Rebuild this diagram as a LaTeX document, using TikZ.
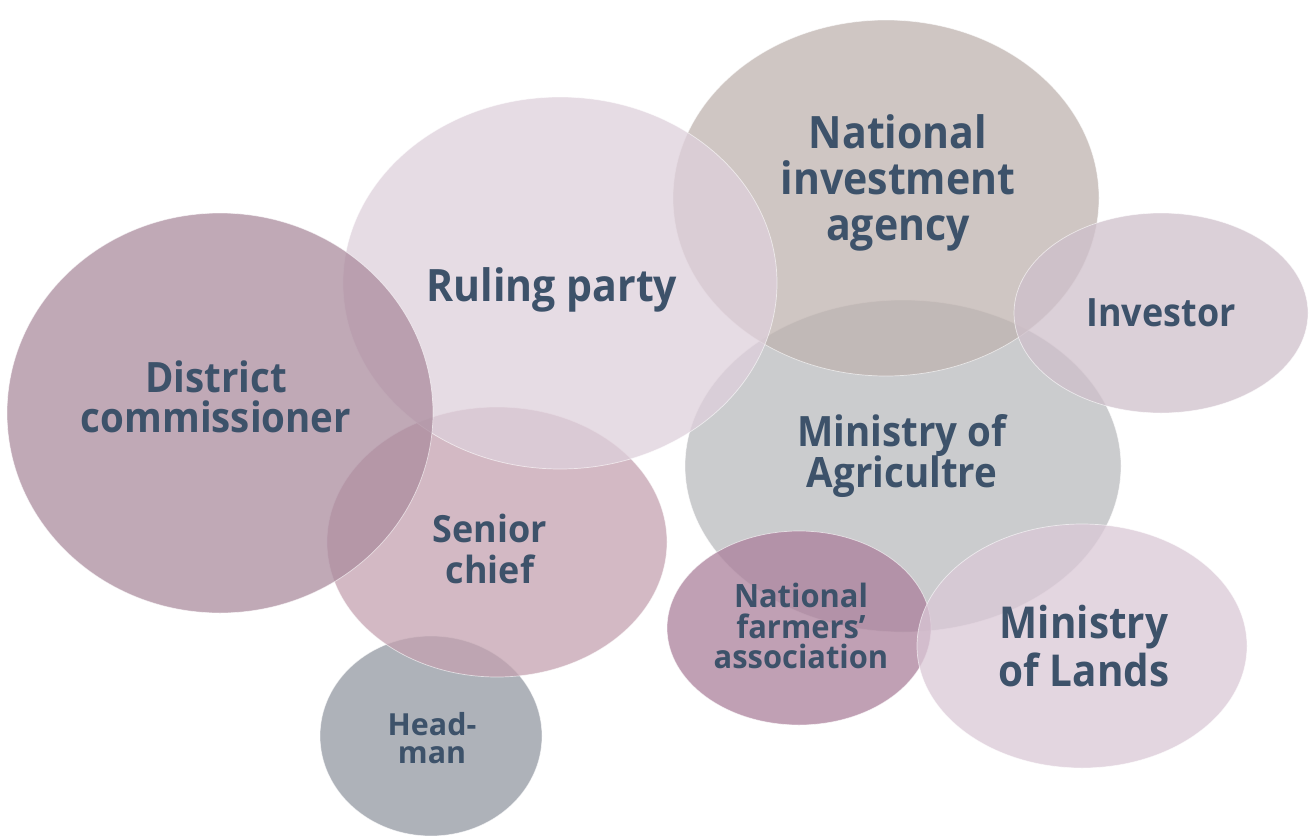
\documentclass[tikz,border=0pt]{standalone}
\usepackage{fontspec}
\setmainfont{Open Sans}
\newfontfamily\bigfont[FakeStretch=0.92]{Open Sans}
\newfontfamily\condfont[FakeStretch=0.96]{Open Sans}
\usetikzlibrary{positioning}

\definecolor{txtblue}{RGB}{61,82,106}
\definecolor{rulingc}{RGB}{222,208,219}
\definecolor{agencyc}{RGB}{191,179,175}
\definecolor{districtc}{RGB}{171,140,158}
\definecolor{investorc}{RGB}{207,192,203}
\definecolor{agricc}{RGB}{186,187,190}
\definecolor{chiefc}{RGB}{196,162,176}
\definecolor{headc}{RGB}{147,152,162}
\definecolor{farmersc}{RGB}{171,128,155}
\definecolor{landsc}{RGB}{218,200,214}

\tikzset{
  blob/.style={fill=#1, fill opacity=0.75, draw=white, draw opacity=0.6, line width=0.4pt},
  lbl/.style={text=txtblue, align=center, inner sep=0pt, font=\bfseries}
}

\begin{document}
\begin{tikzpicture}[x=0.02cm,y=-0.02cm]
  \useasboundingbox (0,0) rectangle (1311,835);
% the bubbles
  \path[blob=headc] (431,736) ellipse (111 and 100);
  \path[blob=chiefc] (497,542) ellipse (170 and 135);
  \path[blob=agricc] (903,466) ellipse (218 and 166);
  \path[blob=agencyc] (886,198) ellipse (213 and 178);
  \path[blob=rulingc] (560,283) ellipse (217 and 186);
  \path[blob=districtc] (220,413) ellipse (213 and 200);
  \path[blob=investorc] (1161,313) ellipse (147 and 100);
  \path[blob=farmersc] (799,628) ellipse (132 and 97);
  \path[blob=landsc] (1082,646) ellipse (165 and 122);
% the labels
  \node[lbl, font=\bigfont\bfseries\fontsize{25.4}{26}\selectfont] (ruling) at (552,290) {Ruling party};
  \node[lbl, font=\bigfont\bfseries\fontsize{25.4}{26.1}\selectfont] (agency) at (898,183) {National\\investment\\agency};
  \node[lbl, font=\bigfont\bfseries\fontsize{23.8}{22.7}\selectfont] (district) at (216,397) {District\\commissioner};
  \node[lbl, font=\bigfont\bfseries\fontsize{22.2}{24}\selectfont] (investor) at (1161,313) {Investor};
  \node[lbl, font=\bigfont\bfseries\fontsize{23.8}{23.8}\selectfont] (agric) at (902,456) {Ministry of\\Agricultre};
  \node[lbl, font=\bigfont\bfseries\fontsize{25}{27}\selectfont] (lands) at (1084,646) {Ministry\\of Lands};
  \node[lbl, font=\condfont\bfseries\fontsize{21.3}{23.8}\selectfont] (chief) at (490,549) {Senior\\chief};
  \node[lbl, font=\condfont\bfseries\fontsize{18.3}{17.6}\selectfont] (farmers) at (801,626) {National\\farmers’\\association};
  \node[lbl, font=\bfseries\fontsize{17.3}{16.4}\selectfont] (head) at (432,738) {Head-\\man};
\end{tikzpicture}
\end{document}
